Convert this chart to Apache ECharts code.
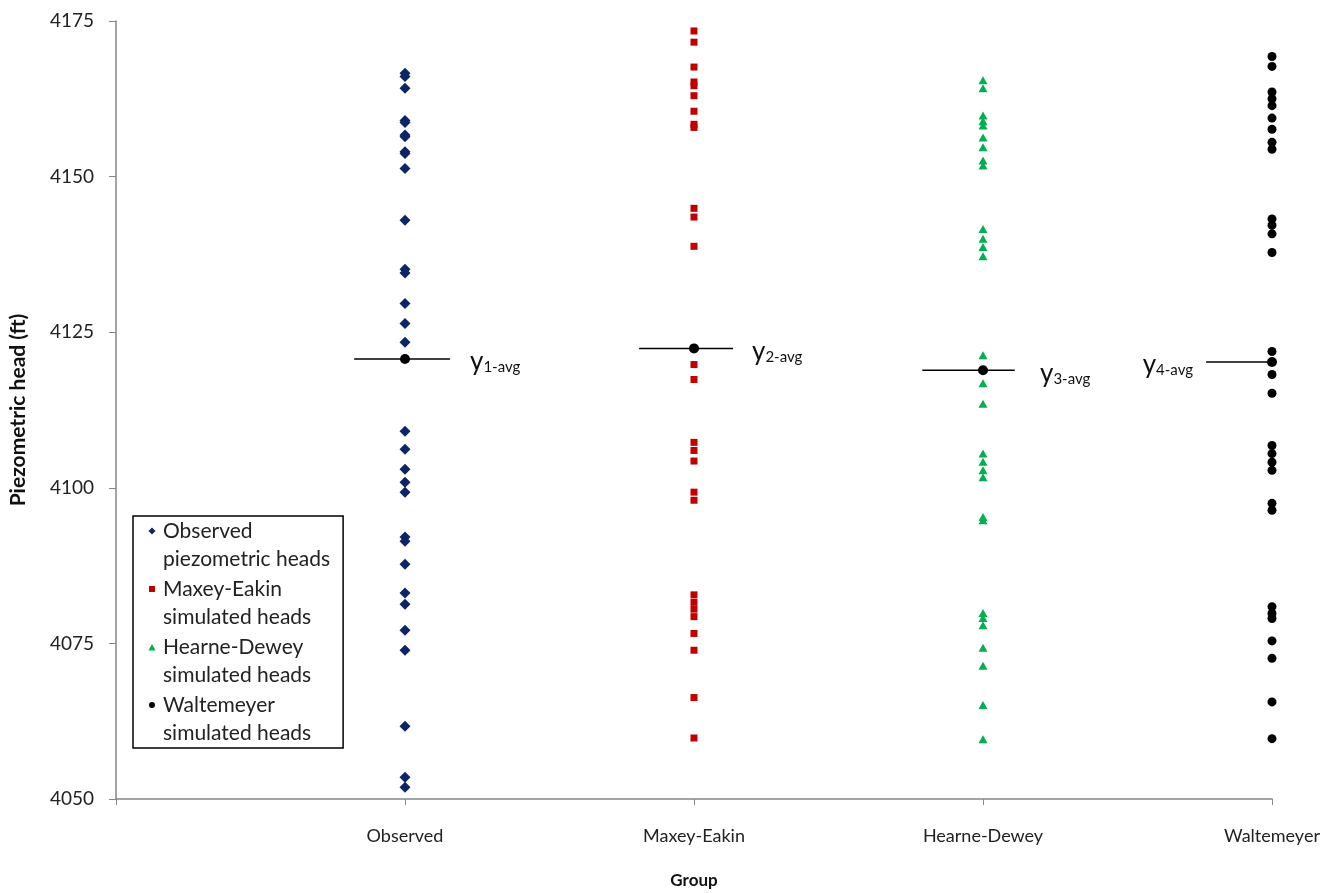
<!DOCTYPE html>
<html>
<head>
<meta charset="utf-8">
<title>Piezometric heads by group</title>
<script src="https://cdn.jsdelivr.net/npm/echarts@6/dist/echarts.min.js"></script>
<style>
  html, body { margin: 0; padding: 0; background: #fff; }
  #chart { width: 1320px; height: 893px; }
</style>
</head>
<body>
<div id="chart"></div>
<script>
// groups on the x axis (placed at 1..4)
var groups = ['Observed', 'Maxey-Eakin', 'Hearne-Dewey', 'Waltemeyer'];
var yTicks = [4050, 4075, 4100, 4125, 4150, 4175];

var observed = [4166.6, 4166.1, 4164.2, 4159.0, 4158.7, 4156.7, 4156.4, 4154.0, 4153.7, 4151.3,
    4143.0, 4135.1, 4134.5, 4129.6, 4126.4, 4123.4, 4109.1, 4106.2, 4103.0, 4100.9, 4099.3,
    4092.1, 4091.4, 4087.7, 4083.1, 4081.3, 4077.1, 4073.9, 4061.7, 4053.5, 4051.9];
var maxeyEakin = [4173.4, 4171.6, 4167.6, 4165.2, 4164.6, 4163.0, 4160.5, 4158.4, 4157.9,
    4144.9, 4143.5, 4138.8, 4119.8, 4117.4, 4107.3, 4106.0, 4104.3, 4099.3, 4098.0,
    4082.8, 4081.6, 4080.5, 4079.3, 4076.6, 4073.9, 4066.3, 4059.8];
var hearneDewey = [4165.5, 4164.2, 4159.8, 4158.9, 4158.2, 4156.3, 4154.7, 4152.6, 4151.8,
    4141.6, 4140.0, 4138.7, 4137.2, 4121.3, 4116.8, 4113.5, 4105.5, 4104.2, 4102.8, 4101.7,
    4095.3, 4094.8, 4079.9, 4079.1, 4077.9, 4074.3, 4071.4, 4065.1, 4059.6];
var waltemeyer = [4169.3, 4167.7, 4163.6, 4162.5, 4161.4, 4159.4, 4157.6, 4155.5, 4154.4,
    4143.2, 4142.2, 4140.8, 4137.8, 4121.9, 4118.2, 4115.2, 4106.8, 4105.5, 4104.1, 4102.8,
    4097.5, 4096.4, 4080.9, 4079.8, 4079.0, 4075.4, 4072.6, 4065.6, 4059.7];
var averages = [4120.7, 4122.4, 4118.9, 4120.2];
var avgNames = ['1-avg', '2-avg', '3-avg', '4-avg'];

// layout of the average markers (x offsets in axis units, label side)
var avgLineLeft = [0.176, 0.19, 0.21, 0.228];
var avgLineRight = [0.156, 0.135, 0.11, 0.13];
var avgLabelSide = ['right', 'right', 'right', 'left'];
var avgLabelDist = [60, 53, 52, 74];

var font = 'Lato, "Open Sans", sans-serif';

// legend icons: shape in the top 8px of a 12x36 box so it sits on the first text line
function legendIcon(shape) {
    return 'path://M0,0M12,36' + shape;
}

var myChart = echarts.init(document.getElementById('chart'));

function column(values, x) {
    return values.map(function (v) { return [x, v]; });
}

var pointSeries = [
    {name: 'Observed\npiezometric heads', data: column(observed, 1), symbol: 'diamond', symbolSize: [11, 11],
        color: '#0B2566', icon: 'M6,0.5L9.5,4L6,7.5L2.5,4Z'},
    {name: 'Maxey-Eakin\nsimulated heads', data: column(maxeyEakin, 2), symbol: 'rect', symbolSize: 7,
        color: '#C00000', icon: 'M3,1L9,1L9,7L3,7Z'},
    {name: 'Hearne-Dewey\nsimulated heads', data: column(hearneDewey, 3), symbol: 'triangle', symbolSize: [9, 8],
        color: '#00B050', icon: 'M6,1L9.5,7.5L2.5,7.5Z'},
    {name: 'Waltemeyer\nsimulated heads', data: column(waltemeyer, 4), symbol: 'circle', symbolSize: 9,
        color: '#000000', icon: 'M6,1A3,3,0,1,1,5.99,1Z'}
];

var scatterSeries = pointSeries.map(function (s) {
    return {
        name: s.name,
        type: 'scatter',
        data: s.data,
        symbol: s.symbol,
        symbolSize: s.symbolSize,
        itemStyle: {color: s.color, opacity: 1},
        z: 3
    };
});

var avgLineSeries = averages.map(function (v, i) {
    return {
        type: 'line',
        data: [[i + 1 - avgLineLeft[i], v], [i + 1 + avgLineRight[i], v]],
        symbol: 'none',
        clip: false,
        silent: true,
        lineStyle: {color: '#000', width: 1.5},
        z: 2
    };
});

var avgPointSeries = {
    type: 'scatter',
    symbol: 'circle',
    symbolSize: 10,
    itemStyle: {color: '#000', opacity: 1},
    z: 4,
    data: averages.map(function (v, i) {
        return {
            value: [i + 1, v],
            label: {
                show: true,
                position: avgLabelSide[i],
                distance: avgLabelDist[i],
                offset: [0, 1],
                formatter: '{y|y}{s|' + avgNames[i] + '}',
                rich: {
                    y: {fontSize: 26, fontFamily: font, color: '#111', verticalAlign: 'bottom', lineHeight: 30},
                    s: {fontSize: 15, fontFamily: font, color: '#111', verticalAlign: 'bottom', lineHeight: 24}
                }
            }
        };
    })
};

var option = {
    animation: false,
    textStyle: {fontFamily: font},
    grid: {left: 116, right: 48, top: 21, bottom: 94, outerBoundsMode: 'none', containLabel: false},
    legend: {
        orient: 'vertical',
        left: 133,
        top: 516,
        data: pointSeries.map(function (s) {
            return {name: s.name, icon: legendIcon(s.icon), itemStyle: {color: s.color}};
        }),
        itemWidth: 12,
        itemHeight: 36,
        itemGap: 2,
        padding: [1, 13, 1, 13],
        borderColor: '#000',
        borderWidth: 1.5,
        backgroundColor: '#fff',
        textStyle: {fontSize: 21, color: '#222', lineHeight: 28},
        selectedMode: false
    },
    xAxis: {
        type: 'value',
        min: 0,
        max: groups.length,
        interval: 1,
        name: 'Group',
        nameLocation: 'middle',
        nameGap: 73,
        nameTextStyle: {fontSize: 17, fontWeight: 'bold', color: '#111'},
        splitLine: {show: false},
        axisLine: {lineStyle: {color: '#868686', width: 1.5}},
        axisTick: {length: 6, lineStyle: {color: '#868686'}},
        axisLabel: {
            fontSize: 18,
            color: '#222',
            margin: 28,
            formatter: function (v) { return groups[v - 1] || ''; }
        }
    },
    yAxis: {
        type: 'value',
        min: yTicks[0],
        max: yTicks[yTicks.length - 1],
        interval: yTicks[1] - yTicks[0],
        name: 'Piezometric head (ft)',
        nameLocation: 'middle',
        nameGap: 87,
        nameTextStyle: {fontSize: 21, fontWeight: 'bold', color: '#111'},
        splitLine: {show: false},
        axisLine: {show: true, lineStyle: {color: '#868686', width: 1.5}},
        axisTick: {show: true, length: 7, lineStyle: {color: '#868686'}},
        axisLabel: {fontSize: 19, color: '#222', margin: 22, formatter: function (v) { return String(v); }}
    },
    series: scatterSeries.concat(avgLineSeries, [avgPointSeries])
};

option && myChart.setOption(option);
</script>
</body>
</html>
